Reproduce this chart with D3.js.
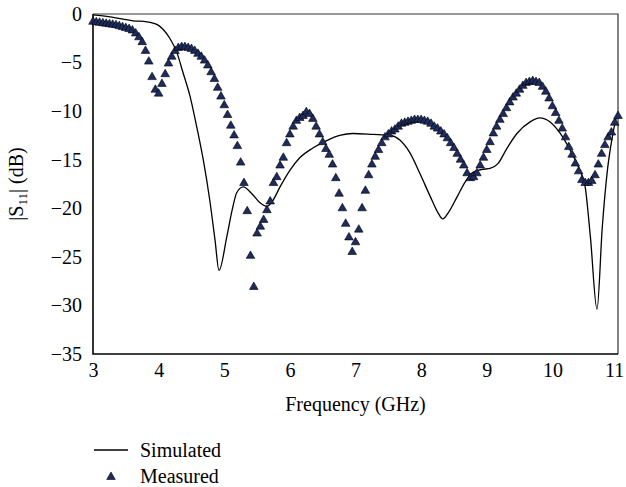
<!DOCTYPE html>
<html>
<head>
<meta charset="utf-8">
<script src="https://cdn.jsdelivr.net/npm/d3@7"></script>
<style>
  body { margin: 0; background: #fff; }
  svg { display: block; font-family: "Liberation Serif", "Times New Roman", serif; }
</style>
</head>
<body>
<div class="svg-container"></div>
<script>
// data
const simFreq = [3.0, 3.26, 3.61, 3.82, 3.98, 4.07, 4.17, 4.28, 4.37, 4.48, 4.58, 4.68, 4.78, 4.86, 4.92,
  5.04, 5.12, 5.19, 5.29, 5.42, 5.54, 5.65, 5.74, 5.85, 6.0, 6.15, 6.35, 6.57, 6.76, 6.96,
  7.27, 7.53, 7.68, 7.83, 7.98, 8.14, 8.26, 8.33, 8.41, 8.55, 8.67, 8.79, 8.93, 9.05, 9.17, 9.31,
  9.46, 9.66, 9.81, 9.96, 10.12, 10.27, 10.42, 10.5, 10.58, 10.68, 10.76, 10.84, 10.91, 10.98, 11.0];
const simVal = [-0.1, -0.3, -0.7, -0.8, -1.1, -1.6, -2.5, -4.0, -6.0, -8.5, -11.6, -15.0, -19.2, -23.3, -26.4,
  -22.9, -20.2, -18.4, -17.8, -18.5, -19.4, -19.8, -19.2, -17.8, -16.1, -14.8, -13.8, -13.0, -12.5, -12.3,
  -12.4, -12.5, -13.0, -14.3, -16.4, -18.8, -20.5, -21.1, -20.5, -18.8, -17.3, -16.3, -16.0, -15.9, -15.4, -13.8,
  -12.3, -11.1, -10.7, -11.1, -12.3, -14.0, -16.1, -17.8, -23.0, -30.4, -22.0, -16.0, -12.8, -10.6, -10.4];

const measFreq = d3.range(0, 161).map(i => +(3 + i * 0.05).toFixed(2));
const measVal = [
  -0.8, -0.85, -0.9, -0.95, -1.0, -1.05, -1.1, -1.15, -1.25, -1.35,   // 3.00-3.45
  -1.45, -1.55, -1.7, -2.0, -2.4, -2.9, -3.8, -4.9, -6.5, -7.8,      // 3.50-3.95
  -8.2, -7.2, -6.2, -5.1, -4.4, -3.8, -3.5, -3.4, -3.4, -3.5,        // 4.00-4.45
  -3.6, -3.8, -4.1, -4.4, -4.8, -5.3, -6.0, -6.7, -7.6, -8.5,        // 4.50-4.95
  -9.4, -10.4, -11.5, -12.5, -13.6, -15.3, -17.4, -20.3, -24.9, -28.1, // 5.00-5.45
  -22.6, -21.9, -21.2, -20.2, -19.3, -17.4, -16.8, -15.6, -14.8, -13.3, // 5.50-5.95
  -12.4, -11.6, -11.0, -10.7, -10.5, -10.1, -10.3, -10.8, -11.6, -12.4, // 6.00-6.45
  -13.2, -13.9, -14.5, -15.5, -16.9, -18.5, -20.0, -21.6, -23.0, -24.5, // 6.50-6.95
  -23.5, -22.2, -20.0, -18.2, -16.6, -15.5, -14.7, -14.0, -13.3, -12.7, // 7.00-7.45
  -12.4, -12.1, -11.9, -11.6, -11.3, -11.2, -11.1, -11.0, -10.9, -10.9, // 7.50-7.95
  -10.9, -11.0, -11.1, -11.3, -11.6, -11.8, -12.1, -12.4, -12.8, -13.3, // 8.00-8.45
  -13.8, -14.4, -15.0, -15.6, -16.4, -16.9, -16.8, -16.4, -15.6, -14.8, // 8.50-8.95
  -14.0, -13.2, -12.3, -11.6, -10.9, -10.3, -9.7, -9.1, -8.6, -8.2,   // 9.00-9.45
  -7.8, -7.4, -7.1, -7.0, -6.9, -7.0, -7.1, -7.5, -8.0, -8.7,       // 9.50-9.95
  -9.5, -10.2, -11.0, -11.8, -12.7, -13.7, -14.5, -15.4, -16.2, -17.1, // 10.00-10.45
  -17.4, -17.4, -17.2, -16.6, -15.5, -14.4, -13.5, -12.7, -12.2, -11.2, // 10.50-10.95
  -10.5                                                               // 11.00
];

const xTicks = [3, 4, 5, 6, 7, 8, 9, 10, 11];
const yTicks = [0, -5, -10, -15, -20, -25, -30, -35];
const legendLabels = ["Simulated", "Measured"];

const w = 626;
const h = 487;
const margin = {top: 14, right: 8, bottom: 133, left: 93};
const markFill = "#1d2b5e";

const svg = d3.select(".svg-container")
  .append("svg")
  .attr("width", w)
  .attr("height", h)
  .attr("viewBox", `0 0 ${w} ${h}`);

const x = d3.scaleLinear().domain([3, 11]).range([margin.left, w - margin.right]);
const y = d3.scaleLinear().domain([-35, 0]).range([h - margin.bottom, margin.top]);

// frame
svg.append("path")
  .attr("d", d3.line()([[x(3), y(0)], [x(11), y(0)], [x(11), y(-35)]]))
  .style("fill", "none").style("stroke", "#333").style("stroke-width", 1.2);
svg.append("path")
  .attr("d", d3.line()([[x(3), y(0)], [x(3), y(-35)], [x(11), y(-35)]]))
  .style("fill", "none").style("stroke", "#000").style("stroke-width", 1.6);

// axes (labels only)
const fmt = d3.format("d");
const xAxis = svg.append("g")
  .attr("transform", `translate(0,${y(-35)})`)
  .call(d3.axisBottom(x).tickValues(xTicks).tickFormat(fmt).tickSize(0).tickPadding(9));
const yAxis = svg.append("g")
  .attr("transform", `translate(${x(3)},0)`)
  .call(d3.axisLeft(y).tickValues(yTicks).tickFormat(fmt).tickSize(0).tickPadding(11));
[xAxis, yAxis].forEach(g => {
  g.select(".domain").remove();
  g.selectAll("text")
    .style("font-family", "Liberation Serif, serif")
    .style("font-size", "20px")
    .style("fill", "#000");
});
// keep the last label inside the page
xAxis.selectAll(".tick text").filter(d => d === 11).attr("dx", "-4px");

// simulated
const simData = simFreq.map((f, i) => [f, simVal[i]]);
svg.append("path")
  .datum(simData)
  .attr("d", d3.line().x(d => x(d[0])).y(d => y(d[1])).curve(d3.curveMonotoneX))
  .style("fill", "none").style("stroke", "#000").style("stroke-width", 1.3);

// measured
const tri = d3.symbol().type(d3.symbolTriangle).size(32);
const measData = measFreq.map((f, i) => [f, measVal[i]]);
svg.selectAll("path.meas").data(measData).enter()
  .append("path")
  .attr("class", "meas")
  .attr("transform", d => `translate(${x(d[0])},${y(d[1])})`)
  .attr("d", tri)
  .style("fill", markFill).style("stroke", "#000").style("stroke-width", 0.6);

// axis titles
svg.append("text")
  .attr("x", (x(3) + x(11)) / 2)
  .attr("y", 411)
  .attr("text-anchor", "middle")
  .style("font-size", "20px")
  .text("Frequency (GHz)");

const yt = svg.append("text")
  .attr("transform", `translate(23,${(y(0) + y(-35)) / 2}) rotate(-90)`)
  .attr("text-anchor", "middle")
  .style("font-size", "20px");
yt.append("tspan").text("|S");
yt.append("tspan").attr("dy", 4).style("font-size", "13px").text("11");
yt.append("tspan").attr("dy", -4).text("| (dB)");

// legend
const lg = svg.append("g");
lg.append("path")
  .attr("d", d3.line()([[94, 450], [128, 450]]))
  .style("stroke", "#000").style("stroke-width", 1.3);
lg.append("path")
  .attr("transform", "translate(111,477)")
  .attr("d", tri)
  .style("fill", markFill).style("stroke", "#000").style("stroke-width", 0.6);
lg.selectAll("text").data(legendLabels).enter()
  .append("text")
  .attr("x", 140)
  .attr("y", (d, i) => 457 + i * 26)
  .style("font-size", "20px")
  .text(d => d);
</script>
</body>
</html>
